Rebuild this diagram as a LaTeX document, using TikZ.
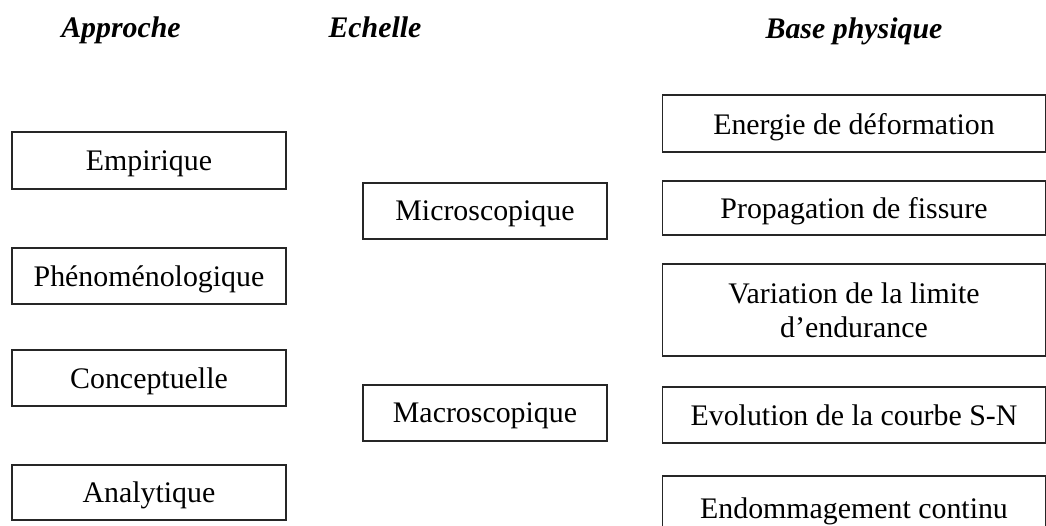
\documentclass[tikz,border=0pt]{standalone}
\usepackage{fontspec}
\setmainfont{Liberation Serif}
\usepackage{tikz}

\tikzset{
  boite/.style={draw=black!85, line width=0.8pt, inner sep=0pt, align=center,
    text depth=0pt, font=\fontsize{17}{19}\selectfont},
  titre/.style={anchor=base, font=\fontsize{17}{20}\selectfont\bfseries\itshape}
}

\begin{document}
\begin{tikzpicture}[x=0.02cm, y=-0.02cm]
              \useasboundingbox (0,0) rectangle (1046,526);
              % Titres
              \node[titre] (tapp) at (121, 38) {Approche};
              \node[titre] (tech) at (375, 38) {Echelle};
              \node[titre] (tbas) at (854, 39) {Base physique};

              % Approche
              \node[boite, minimum width=5.48cm, minimum height=1.14cm] (emp) at (149, 160.5) {Empirique};
              \node[boite, minimum width=5.48cm, minimum height=1.12cm] (phe) at (149, 276) {Phénoménologique};
              \node[boite, minimum width=5.48cm, minimum height=1.12cm] (con) at (149, 378) {Conceptuelle};
              \node[boite, minimum width=5.48cm, minimum height=1.10cm] (ana) at (149, 492.5) {Analytique};

              % Echelle
              \node[boite, minimum width=4.88cm, minimum height=1.12cm] (mic) at (485, 211) {Microscopique};
              \node[boite, minimum width=4.88cm, minimum height=1.12cm] (mac) at (485, 413) {Macroscopique};

              % Base physique
              \node[boite, minimum width=7.66cm, minimum height=1.14cm] (ene) at (854, 123.5) {Energie de déformation};
              \node[boite, minimum width=7.66cm, minimum height=1.08cm] (pro) at (854, 208) {Propagation de fissure};
              \node[boite, minimum width=7.66cm, minimum height=1.84cm] (var) at (854, 310) {Variation de la limite\\d’endurance};
              \node[boite, minimum width=7.66cm, minimum height=1.12cm] (evo) at (854, 415) {Evolution de la courbe S-N};
              \node[boite, minimum width=7.66cm, minimum height=1.28cm] (end) at (854, 508) {Endommagement continu};
        \end{tikzpicture}
\end{document}
